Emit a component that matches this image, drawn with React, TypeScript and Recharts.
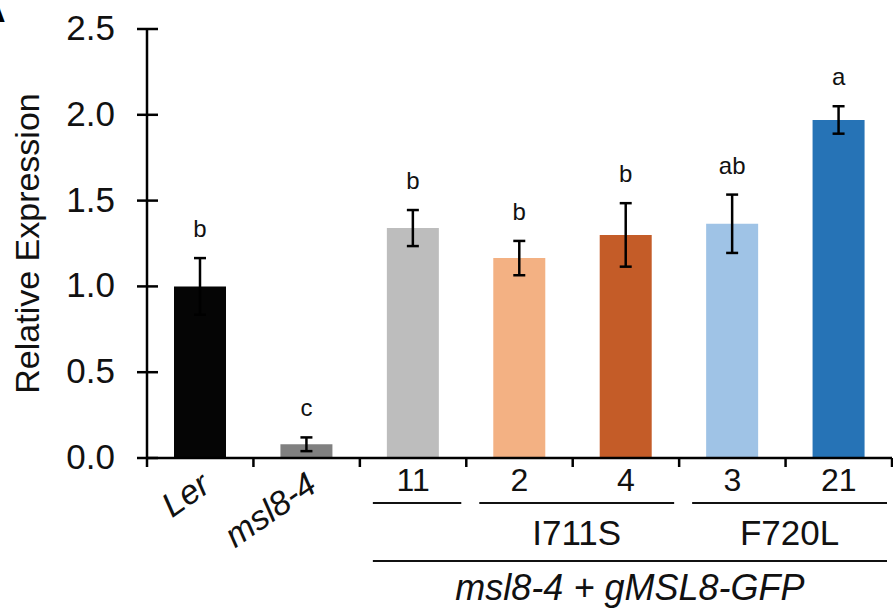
import React from "react";
import { BarChart, Bar, XAxis, YAxis, Cell, ErrorBar, LabelList, Label } from "recharts";

// values
const lines = ["Ler", "msl8-4", "11", "2", "4", "3", "21"];
const expression = [1.0, 0.08, 1.34, 1.165, 1.3, 1.365, 1.97];
const sem = [0.165, 0.04, 0.105, 0.1, 0.185, 0.17, 0.08];
const letters = ["b", "c", "b", "b", "b", "ab", "a"];
const barColors = ["#050505", "#808080", "#bdbdbd", "#f3b183", "#c45c28", "#9fc3e6", "#2673b6"];
const rotatedLines = ["Ler", "msl8-4"];
const yTicks = [0, 0.5, 1, 1.5, 2, 2.5];
const groups = [
  { label: "", from: 2, to: 2, row: 0, italic: false },
  { label: "I711S", from: 3, to: 4, row: 0, italic: false },
  { label: "F720L", from: 5, to: 6, row: 0, italic: false },
  { label: "msl8-4 + gMSL8-GFP", from: 2, to: 6, row: 1, italic: true },
];

const W = 893;
const H = 610;
const M = { top: 29, right: 1, left: 0, bottom: 0 };
const Y_W = 147;
const X_H = 152;
const BAND = (W - M.left - M.right - Y_W) / lines.length;
const FONT = '"Liberation Sans", Arial, Helvetica, sans-serif';

const data = lines.map((name, i) => ({ name, value: expression[i], err: sem[i], sig: letters[i] }));

const YTick = (p: any) => (
  <g>
    <line x1={p.x - 10} x2={p.x + 11} y1={p.y} y2={p.y} stroke="#000" strokeWidth={2.5} />
    <text x={p.x - 32} y={p.y} dy={11} textAnchor="end" fontSize={35} fill="#111" fontFamily={FONT}>
      {Number(p.payload.value).toFixed(1)}
    </text>
  </g>
);

const XTick = (p: any) => {
  const { x, y, index } = p;
  const name = p.payload.value;
  const left = x - BAND / 2;
  const ax = x + 12;
  const ay = y + 32;
  return (
    <g fontFamily={FONT} fill="#111">
      <line x1={left} x2={left} y1={y} y2={y + 9} stroke="#000" strokeWidth={2.5} />
      {index === lines.length - 1 && (
        <line x1={x + BAND / 2} x2={x + BAND / 2} y1={y} y2={y + 9} stroke="#000" strokeWidth={2.5} />
      )}
      {rotatedLines.includes(name) ? (
        <text x={ax} y={ay} textAnchor="end" fontSize={34} fontStyle="italic"
          transform={`rotate(-35 ${ax} ${ay})`}>{name}</text>
      ) : (
        <text x={x} y={y + 33} textAnchor="middle" fontSize={32}>{name}</text>
      )}
      {groups.filter(g => g.from === index).map((g, k) => {
        const x1 = left + 13;
        const x2 = left + (g.to - g.from + 1) * BAND - 5;
        const ly = y + (g.row === 0 ? 45 : 103);
        return (
          <g key={k}>
            <line x1={x1} x2={x2} y1={ly} y2={ly} stroke="#111" strokeWidth={2} />
            {g.label && (
              <text x={(x1 + x2) / 2} y={ly + (g.row === 0 ? 42 : 39)} textAnchor="middle"
                fontSize={g.row === 0 ? 35 : 36} fontStyle={g.italic ? "italic" : "normal"}>{g.label}</text>
            )}
          </g>
        );
      })}
    </g>
  );
};

const SigLabel = (p: any) => {
  const vb = p.viewBox ?? p;
  const x = p.x ?? vb.x;
  const y = p.y ?? vb.y;
  const width = p.width ?? vb.width;
  const height = p.height ?? vb.height;
  const i = p.index;
  const perUnit = height / expression[i];
  const top = y - sem[i] * perUnit;
  return (
    <text x={x + width / 2} y={top - 21} textAnchor="middle" fontSize={24} fill="#111" fontFamily={FONT}>
      {letters[i]}
    </text>
  );
};

export default function App() {
  return (
    <div style={{ position: "absolute", left: 0, top: 0, width: W, height: H, overflow: "hidden", background: "#fff" }}>
      <div style={{ position: "absolute", left: -19, top: -9, fontFamily: FONT, fontSize: 34, fontWeight: 700 }}>A</div>
      <BarChart width={W} height={H} data={data} margin={M}>
        <XAxis dataKey="name" height={X_H} interval={0} tickLine={false} tickSize={0} tickMargin={0}
          axisLine={{ stroke: "#000", strokeWidth: 2.5 }} tick={<XTick />} />
        <YAxis width={Y_W} domain={[0, 2.5]} ticks={yTicks} interval={0} tickLine={false} tickSize={0} tickMargin={0}
          axisLine={{ stroke: "#000", strokeWidth: 2.5 }} tick={<YTick />}>
          <Label content={(p: any) => {
            const vb = p.viewBox;
            const cx = vb.x + 27;
            const cy = vb.y + vb.height / 2;
            return (
              <text x={cx} y={cy} textAnchor="middle" dominantBaseline="central" fontSize={34} fill="#111"
                fontFamily={FONT} transform={`rotate(-90 ${cx} ${cy})`}>Relative Expression</text>
            );
          }} />
        </YAxis>
        <Bar dataKey="value" barSize={52} isAnimationActive={false}>
          {data.map((d, i) => <Cell key={d.name} fill={barColors[i]} />)}
          <ErrorBar dataKey="err" width={6} stroke="#000" strokeWidth={2.5} isAnimationActive={false} />
          <LabelList dataKey="sig" content={<SigLabel />} />
        </Bar>
      </BarChart>
    </div>
  );
}
